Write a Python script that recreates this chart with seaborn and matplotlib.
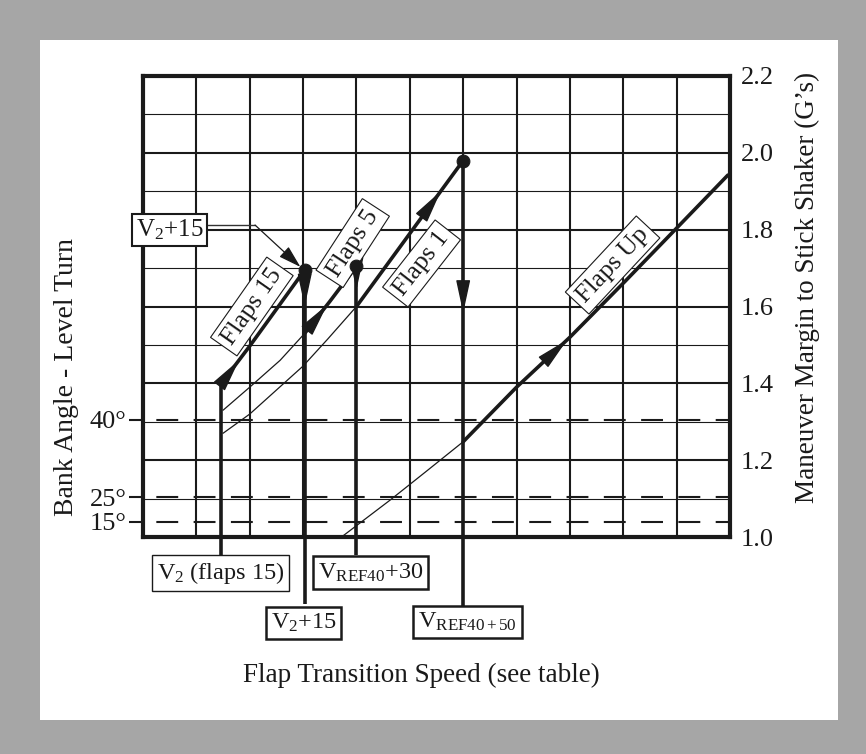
import numpy as np
import matplotlib
matplotlib.use("Agg")
import matplotlib.pyplot as plt
from matplotlib.patches import Rectangle
import seaborn as sns

# speed marks along the bottom (grid columns) and where each vertical stops (G's)
speed_labels = ["V$_2$ (flaps 15)", "V$_2$+15", "V$_{\\mathrm{REF40}}$+30", "V$_{\\mathrm{REF40+50}}$"]
speed_x = [1.47, 3.03, 4.0, 6.0]
speed_top = [1.40, 1.695, 1.705, 1.98]
speed_arrow = [None, 1.60, 1.643, 1.583]

# bank angle reference lines (load factor for level turn)
bank_labels = ["40°", "25°", "15°"]
bank_g = [1.305, 1.103, 1.04]

# curves: thin = part below the transition, thick = flown path
flaps15_x = [1.47, 2.0, 2.5, 3.03]
flaps15_y = [1.40, 1.497, 1.593, 1.695]
flaps5_thin_x = [1.5, 2.0, 2.57, 3.03]
flaps5_thin_y = [1.33, 1.39, 1.46, 1.53]
flaps5_x = [3.03, 3.5, 4.0]
flaps5_y = [1.53, 1.613, 1.705]
flaps1_thin_x = [1.5, 2.0, 3.0, 3.46, 4.0]
flaps1_thin_y = [1.27, 1.32, 1.445, 1.515, 1.60]
flaps1_x = [4.0, 5.0, 6.0]
flaps1_y = [1.60, 1.79, 1.98]
flapsup_thin_x = [3.72, 4.63, 5.3, 6.0]
flapsup_thin_y = [1.0, 1.096, 1.17, 1.248]
flapsup_x = [6.0, 7.0, 8.0, 9.03, 10.0, 10.96]
flapsup_y = [1.248, 1.39, 1.52, 1.665, 1.804, 1.942]

curve_names = ["Flaps 15", "Flaps 5", "Flaps 1", "Flaps Up"]

sns.set_theme(style="white")
plt.rcParams["font.family"] = ["Liberation Serif", "DejaVu Serif"]
plt.rcParams["mathtext.fontset"] = "custom"
plt.rcParams["mathtext.rm"] = "Liberation Serif"
plt.rcParams["mathtext.it"] = "Liberation Serif:italic"
plt.rcParams["mathtext.bf"] = "Liberation Serif:bold"

fig = plt.figure(figsize=(8.66, 7.54), dpi=100)
fig.patch.set_facecolor("#a6a6a6")
fig.patches.append(Rectangle((40 / 866, 34 / 754), 798 / 866, 680 / 754,
                             transform=fig.transFigure, facecolor="white",
                             edgecolor="none", zorder=-10))

ax = fig.add_axes([143 / 866, 217 / 754, 587 / 866, 461 / 754])
ax.set_facecolor("white")
ax.set_xlim(0, 11)
ax.set_ylim(1.0, 2.2)

# bank angle ticks on a twin axis placed on the left
ax2 = ax.twinx()
ax2.set_ylim(ax.get_ylim())
ax2.yaxis.tick_left()
ax2.set_yticks(bank_g)
ax2.set_yticklabels(bank_labels)
ax2.tick_params(axis="y", length=10, width=1.5, color="k", pad=2, labelsize=19, labelcolor="k")
for s in ax2.spines.values():
    s.set_visible(False)

# grid + G scale on the right
ax.set_xticks(range(12))
ax.set_xticklabels([])
ax.yaxis.tick_right()
ax.set_yticks(np.round(np.arange(1.0, 2.21, 0.2), 1))
ax.set_yticklabels([f"{v:.1f}" for v in np.arange(1.0, 2.21, 0.2)])
ax.set_yticks(np.round(np.arange(1.1, 2.2, 0.2), 1), minor=True)
ax.grid(True, which="major", color="k", lw=1.5)
ax.grid(True, which="minor", axis="y", color="k", lw=0.8)
ax.tick_params(axis="x", length=0)
ax.tick_params(axis="y", which="both", length=0, pad=8, labelsize=19, labelcolor="k",
               left=False, labelleft=False, right=True, labelright=True)
for s in ax.spines.values():
    s.set_linewidth(3)
    s.set_color("k")
    s.set_zorder(2.6)

# bank angle lines
for g in bank_g:
    ax.axhline(g, color="k", lw=1.5, ls=(11.5, (10.5, 7.4)), zorder=2)

# thin curves
for xs, ys in [(flaps5_thin_x, flaps5_thin_y), (flaps1_thin_x, flaps1_thin_y),
               (flapsup_thin_x, flapsup_thin_y)]:
    sns.lineplot(x=xs, y=ys, ax=ax, color="k", lw=0.9, zorder=3)

# thick flown path
thick = [(flaps15_x, flaps15_y), (flaps5_x, flaps5_y), (flaps1_x, flaps1_y), (flapsup_x, flapsup_y)]
for xs, ys in thick:
    sns.lineplot(x=xs, y=ys, ax=ax, color="k", lw=2.6, zorder=4)

arrow_style = "-|>,head_length=1.3,head_width=0.28"

# arrows along thick curves
arrow_at = [1.80, 3.45, 5.58, 7.95]
for (xs, ys), xa in zip(thick, arrow_at):
    tip = (xa, np.interp(xa, xs, ys))
    tail = (xa - 0.05, np.interp(xa - 0.05, xs, ys))
    ax.annotate("", xy=tip, xytext=tail,
                arrowprops=dict(arrowstyle=arrow_style, color="k", lw=1,
                                shrinkA=0, shrinkB=0, mutation_scale=16),
                zorder=5)

# speed verticals, running down to their label boxes
label_pos = [(1.45, -0.078), (3.01, -0.186), (4.27, -0.077), (6.08, -0.184)]
label_box_top = [-0.039, -0.145, -0.039, -0.150]
trans = ax.get_xaxis_transform()
for i, (x, top) in enumerate(zip(speed_x, speed_top)):
    yb = 1.0 + label_box_top[i] * 1.2
    ax.plot([x, x], [top, yb], color="k", lw=2.6, clip_on=False, zorder=4,
            solid_capstyle="butt")
    if speed_arrow[i] is not None:
        ax.annotate("", xy=(x, speed_arrow[i]), xytext=(x, speed_arrow[i] + 0.03),
                    arrowprops=dict(arrowstyle=arrow_style, color="k", lw=1,
                                    shrinkA=0, shrinkB=0, mutation_scale=16),
                    zorder=5)
    lx, ly = label_pos[i]
    ax.text(lx, ly, speed_labels[i], transform=trans, ha="center", va="center",
            fontsize=17.5, color="k", zorder=6,
            bbox=dict(boxstyle="square,pad=0.2", fc="white", ec="k",
                      lw=1.0 if i == 0 else 1.8))

# transition points
sns.scatterplot(x=speed_x[1:], y=speed_top[1:], ax=ax, color="k", s=85,
                edgecolor="k", zorder=6)

# curve name boxes
name_pos = [(2.04, 1.60), (3.93, 1.765), (5.22, 1.712), (8.80, 1.708)]
name_rot = [55, 57, 52, 47]
for name, (x, y), r in zip(curve_names, name_pos, name_rot):
    ax.text(x, y, name, rotation=r, rotation_mode="anchor", ha="center", va="center",
            fontsize=18.5, color="k", zorder=5,
            bbox=dict(boxstyle="square,pad=0.2", fc="white", ec="k", lw=0.8))

# V2+15 callout at upper left
ax.text(0.5, 1.80, "V$_2$+15", ha="center", va="center", fontsize=18, color="k",
        zorder=7, clip_on=False,
        bbox=dict(boxstyle="square,pad=0.15", fc="white", ec="k", lw=1.5))
ax.plot([1.1, 2.1], [1.812, 1.812], color="#333333", lw=1.0, zorder=5)
ax.annotate("", xy=(2.95, 1.703), xytext=(2.1, 1.812),
            arrowprops=dict(arrowstyle="-|>,head_length=1.0,head_width=0.3",
                            color="k", lw=0.9, shrinkA=0, shrinkB=0, mutation_scale=14),
            zorder=5)

fig.text(421 / 866, 1 - 675 / 754, "Flap Transition Speed (see table)",
         ha="center", va="center", fontsize=19.5, color="k")
fig.text(67 / 866, 1 - 377 / 754, "Bank Angle - Level Turn", rotation=90,
         ha="center", va="center", fontsize=20, color="k")
fig.text(807 / 866, 1 - 287 / 754, "Maneuver Margin to Stick Shaker (G\u2019s)", rotation=90,
         ha="center", va="center", fontsize=19.5, color="k")

fig.savefig("out.png", dpi=100, facecolor=fig.get_facecolor())
